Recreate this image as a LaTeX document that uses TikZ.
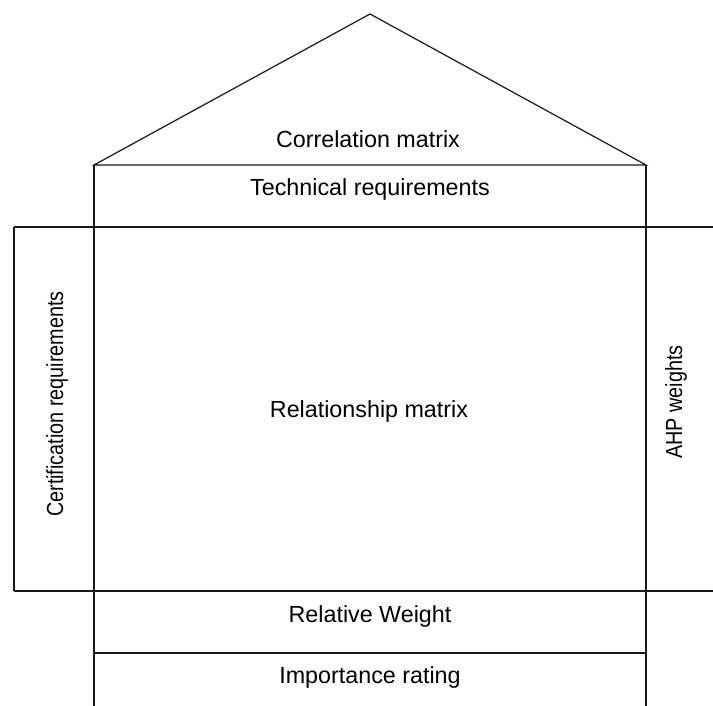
\documentclass[tikz,border=0pt]{standalone}
\usepackage{fontspec}
\setmainfont{Liberation Sans}
\newfontfamily\narrowfont[FakeStretch=0.85]{Liberation Sans}
\begin{document}
\begin{tikzpicture}[x=1pt,y=-1pt,
  wall/.style={line width=1.2pt,draw=black!90},
  lbl/.style={font=\fontsize{23.3}{26}\selectfont,inner sep=0pt},
  vlbl/.style={font=\narrowfont\fontsize{23.3}{26}\selectfont,inner sep=0pt,rotate=90}]
\useasboundingbox (0,0) rectangle (713,706);
% roof
\draw[wall] (94,165) -- (370,14) -- (646,165) -- cycle;
% walls
\draw[wall] (94,165) -- (94,706);
\draw[wall] (646,165) -- (646,706);
\draw[wall] (14,227) -- (713,227);
\draw[wall] (14,591) -- (713,591);
\draw[wall] (14,227) -- (14,591);
\draw[wall] (94,653) -- (646,653);
% labels
\node[lbl] (corr) at (368,139) {Correlation matrix};
\node[lbl] (tech) at (370,189) {Technical requirements};
\node[lbl] (rel) at (369,411) {Relationship matrix};
\node[lbl] (rw) at (370,616) {Relative Weight};
\node[lbl] (imp) at (370,677) {Importance rating};
\node[vlbl] (cert) at (57,404) {Certification requirements};
\node[vlbl] (ahp) at (676,402) {AHP weights};
\end{tikzpicture}
\end{document}
